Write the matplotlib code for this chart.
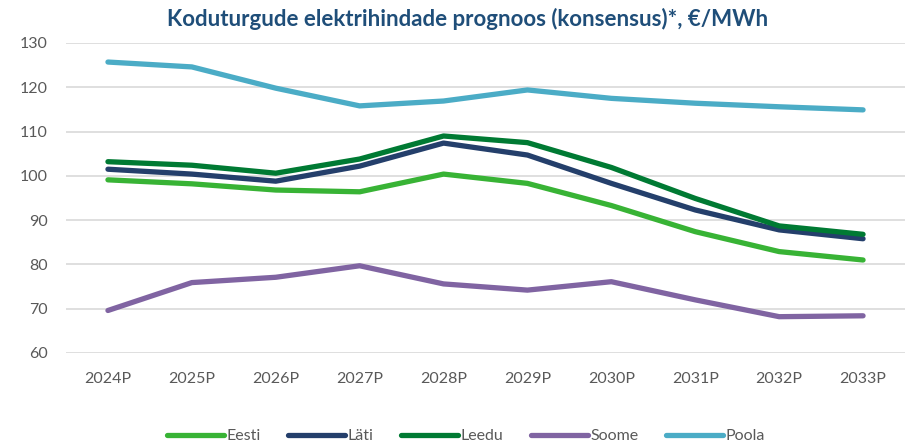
import numpy as np
import matplotlib.pyplot as plt

# Andmed
aastad = ['2024P', '2025P', '2026P', '2027P', '2028P', '2029P', '2030P', '2031P', '2032P', '2033P']
eesti = [99.1, 98.2, 96.8, 96.4, 100.4, 98.3, 93.3, 87.4, 82.9, 81.0]
lati = [101.5, 100.4, 98.8, 102.2, 107.4, 104.7, 98.3, 92.3, 87.8, 85.8]
leedu = [103.2, 102.4, 100.6, 103.8, 109.0, 107.5, 101.9, 94.9, 88.7, 86.8]
soome = [69.6, 75.9, 77.1, 79.7, 75.6, 74.2, 76.1, 72.0, 68.2, 68.4]
poola = [125.7, 124.6, 119.8, 115.8, 116.9, 119.4, 117.5, 116.4, 115.6, 114.9]

seeriad = [
    ('Eesti', eesti, '#38B335'),
    ('Läti', lati, '#243F6B'),
    ('Leedu', leedu, '#007A33'),
    ('Soome', soome, '#8064A2'),
    ('Poola', poola, '#4BACC6'),
]

plt.rcParams['font.family'] = ['Lato', 'DejaVu Sans']

fig = plt.figure(figsize=(9.08, 4.46), dpi=100)
ax = fig.add_axes([66 / 908, 1 - 353 / 446, (905 - 66) / 908, (353 - 43) / 446])

x = np.arange(len(aastad))
for nimi, vaartused, varv in seeriad:
    ax.plot(x, vaartused, color=varv, linewidth=3.8, solid_capstyle='round',
            solid_joinstyle='round', label=nimi, zorder=3)

ax.set_xlim(-0.5, len(aastad) - 0.5)
ax.set_ylim(60, 130)
ax.set_yticks(np.arange(60, 131, 10))
ax.set_xticks(x)
ax.set_xticklabels(aastad)
ax.grid(axis='y', color='#D9D9D9', linewidth=1.2)
ax.set_axisbelow(True)
for s in ax.spines.values():
    s.set_visible(False)
ax.tick_params(axis='both', length=0, labelsize=11.5, labelcolor='#595959')
ax.tick_params(axis='y', pad=13)
ax.tick_params(axis='x', pad=14)

fig.text(0.515, 0.957, 'Koduturgude elektrihindade prognoos (konsensus)*, €/MWh',
         ha='center', va='center', fontsize=16, fontweight='bold', color='#1F4E79')

fig.legend(loc='center', bbox_to_anchor=(0.513, 0.022), ncol=5, frameon=False,
           fontsize=11.5, handlelength=3.6, handletextpad=0.15, columnspacing=1.7,
           labelcolor='#595959')

fig.savefig('out.png', dpi=100)
